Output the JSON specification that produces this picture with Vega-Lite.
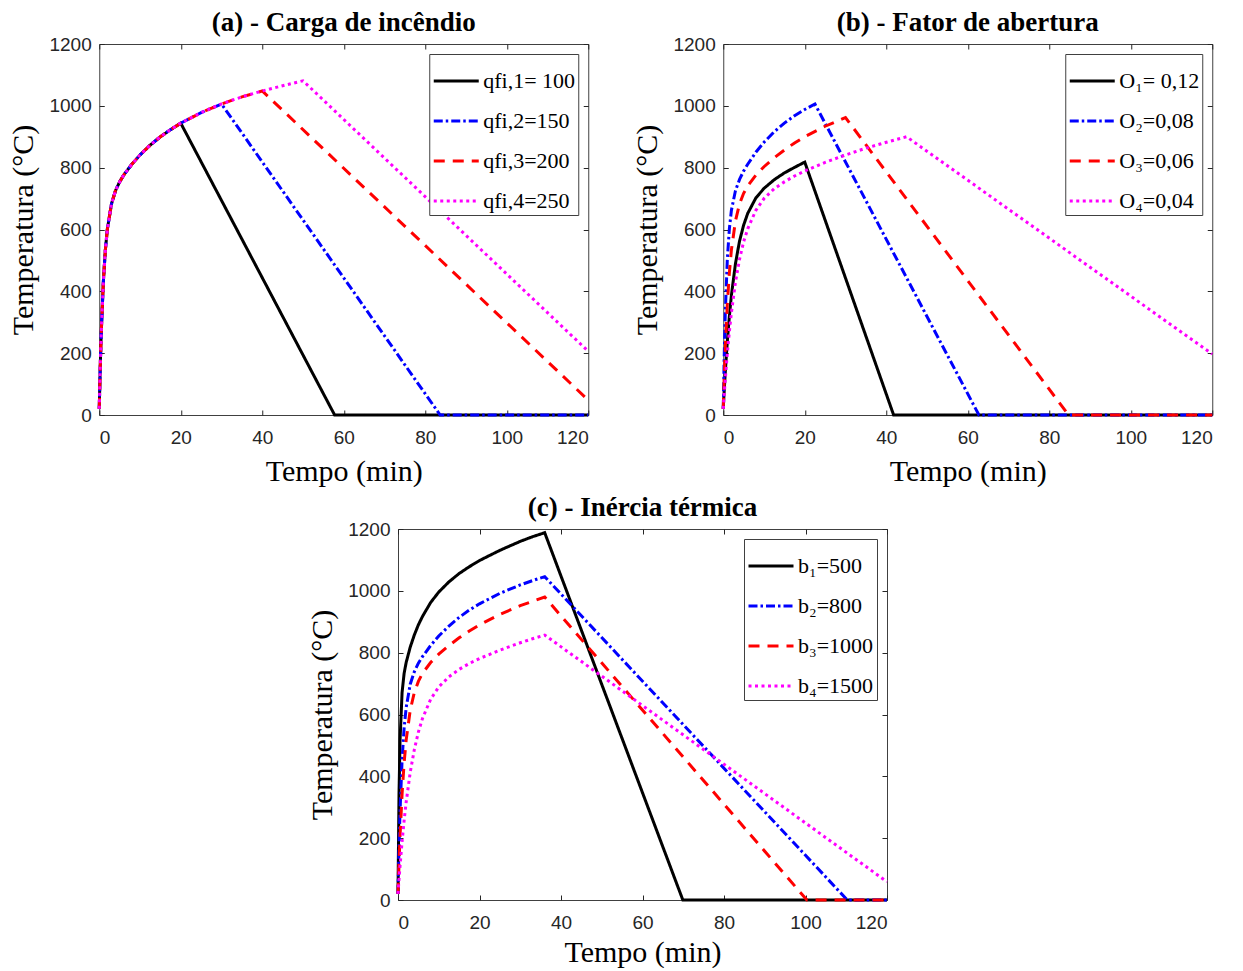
{
"$schema": "https://vega.github.io/schema/vega-lite/v6.json",
"padding": {"left": 8, "top": 8, "right": 5, "bottom": 0},
"datasets": {
"a": [
{"k":1,"t":0,"T":20},{"k":1,"t":0.25,"T":159},{"k":1,"t":0.5,"T":270},{"k":1,"t":1,"T":430},{"k":1,"t":1.5,"T":534},{"k":1,"t":2,"T":602},{"k":1,"t":3,"T":683},{"k":1,"t":4,"T":726},{"k":1,"t":5,"T":754},{"k":1,"t":6,"T":776},{"k":1,"t":8,"T":811},{"k":1,"t":10,"T":841},{"k":1,"t":12.5,"T":873},{"k":1,"t":15,"T":900},{"k":1,"t":17.5,"T":923},{"k":1,"t":20,"T":944},{"k":1,"t":57.76,"T":0},{"k":1,"t":120,"T":0},
{"k":2,"t":0,"T":20},{"k":2,"t":0.25,"T":159},{"k":2,"t":0.5,"T":270},{"k":2,"t":1,"T":430},{"k":2,"t":1.5,"T":534},{"k":2,"t":2,"T":602},{"k":2,"t":3,"T":683},{"k":2,"t":4,"T":726},{"k":2,"t":5,"T":754},{"k":2,"t":6,"T":776},{"k":2,"t":8,"T":811},{"k":2,"t":10,"T":841},{"k":2,"t":12.5,"T":873},{"k":2,"t":15,"T":900},{"k":2,"t":17.5,"T":923},{"k":2,"t":20,"T":944},{"k":2,"t":25,"T":978},{"k":2,"t":30,"T":1006},{"k":2,"t":83.65,"T":0},{"k":2,"t":120,"T":0},
{"k":3,"t":0,"T":20},{"k":3,"t":0.25,"T":159},{"k":3,"t":0.5,"T":270},{"k":3,"t":1,"T":430},{"k":3,"t":1.5,"T":534},{"k":3,"t":2,"T":602},{"k":3,"t":3,"T":683},{"k":3,"t":4,"T":726},{"k":3,"t":5,"T":754},{"k":3,"t":6,"T":776},{"k":3,"t":8,"T":811},{"k":3,"t":10,"T":841},{"k":3,"t":12.5,"T":873},{"k":3,"t":15,"T":900},{"k":3,"t":17.5,"T":923},{"k":3,"t":20,"T":944},{"k":3,"t":25,"T":978},{"k":3,"t":30,"T":1006},{"k":3,"t":35,"T":1029},{"k":3,"t":40,"T":1048},{"k":3,"t":120,"T":48},
{"k":4,"t":0,"T":20},{"k":4,"t":0.25,"T":159},{"k":4,"t":0.5,"T":270},{"k":4,"t":1,"T":430},{"k":4,"t":1.5,"T":534},{"k":4,"t":2,"T":602},{"k":4,"t":3,"T":683},{"k":4,"t":4,"T":726},{"k":4,"t":5,"T":754},{"k":4,"t":6,"T":776},{"k":4,"t":8,"T":811},{"k":4,"t":10,"T":841},{"k":4,"t":12.5,"T":873},{"k":4,"t":15,"T":900},{"k":4,"t":17.5,"T":923},{"k":4,"t":20,"T":944},{"k":4,"t":25,"T":978},{"k":4,"t":30,"T":1006},{"k":4,"t":35,"T":1029},{"k":4,"t":40,"T":1048},{"k":4,"t":45,"T":1065},{"k":4,"t":50,"T":1081},{"k":4,"t":120,"T":206}
],
"b": [
{"k":1,"t":0,"T":20},{"k":1,"t":0.25,"T":82},{"k":1,"t":0.5,"T":139},{"k":1,"t":1,"T":238},{"k":1,"t":1.5,"T":319},{"k":1,"t":2,"T":387},{"k":1,"t":3,"T":490},{"k":1,"t":4,"T":563},{"k":1,"t":5,"T":614},{"k":1,"t":6,"T":652},{"k":1,"t":8,"T":702},{"k":1,"t":10,"T":733},{"k":1,"t":12.5,"T":761},{"k":1,"t":15,"T":783},{"k":1,"t":17.5,"T":801},{"k":1,"t":20,"T":818},{"k":1,"t":41.81,"T":0},{"k":1,"t":120,"T":0},
{"k":2,"t":0,"T":20},{"k":2,"t":0.25,"T":199},{"k":2,"t":0.5,"T":331},{"k":2,"t":1,"T":504},{"k":2,"t":1.5,"T":602},{"k":2,"t":2,"T":662},{"k":2,"t":3,"T":726},{"k":2,"t":4,"T":762},{"k":2,"t":5,"T":789},{"k":2,"t":6,"T":811},{"k":2,"t":8,"T":850},{"k":2,"t":10,"T":882},{"k":2,"t":12.5,"T":916},{"k":2,"t":15,"T":944},{"k":2,"t":17.5,"T":968},{"k":2,"t":20,"T":988},{"k":2,"t":22.5,"T":1006},{"k":2,"t":62.74,"T":0},{"k":2,"t":120,"T":0},
{"k":3,"t":0,"T":20},{"k":3,"t":0.25,"T":127},{"k":3,"t":0.5,"T":217},{"k":3,"t":1,"T":359},{"k":3,"t":1.5,"T":460},{"k":3,"t":2,"T":534},{"k":3,"t":3,"T":628},{"k":3,"t":4,"T":683},{"k":3,"t":5,"T":717},{"k":3,"t":6,"T":741},{"k":3,"t":8,"T":776},{"k":3,"t":10,"T":803},{"k":3,"t":12.5,"T":832},{"k":3,"t":15,"T":857},{"k":3,"t":17.5,"T":880},{"k":3,"t":20,"T":900},{"k":3,"t":25,"T":934},{"k":3,"t":30,"T":962},{"k":3,"t":84.73,"T":0},{"k":3,"t":120,"T":0},
{"k":4,"t":0,"T":20},{"k":4,"t":0.25,"T":70},{"k":4,"t":0.5,"T":116},{"k":4,"t":1,"T":199},{"k":4,"t":1.5,"T":270},{"k":4,"t":2,"T":331},{"k":4,"t":3,"T":430},{"k":4,"t":4,"T":504},{"k":4,"t":5,"T":560},{"k":4,"t":6,"T":602},{"k":4,"t":8,"T":662},{"k":4,"t":10,"T":700},{"k":4,"t":12.5,"T":732},{"k":4,"t":15,"T":754},{"k":4,"t":17.5,"T":773},{"k":4,"t":20,"T":789},{"k":4,"t":25,"T":817},{"k":4,"t":30,"T":841},{"k":4,"t":35,"T":863},{"k":4,"t":40,"T":882},{"k":4,"t":45,"T":900},{"k":4,"t":120,"T":197}
],
"c": [
{"k":1,"t":0,"T":20},{"k":1,"t":0.25,"T":343},{"k":1,"t":0.5,"T":517},{"k":1,"t":1,"T":671},{"k":1,"t":1.5,"T":733},{"k":1,"t":2,"T":768},{"k":1,"t":3,"T":818},{"k":1,"t":4,"T":857},{"k":1,"t":5,"T":890},{"k":1,"t":6,"T":917},{"k":1,"t":8,"T":962},{"k":1,"t":10,"T":996},{"k":1,"t":12.5,"T":1029},{"k":1,"t":15,"T":1056},{"k":1,"t":17.5,"T":1078},{"k":1,"t":20,"T":1098},{"k":1,"t":25,"T":1131},{"k":1,"t":30,"T":1160},{"k":1,"t":33,"T":1175},{"k":1,"t":36,"T":1188},{"k":1,"t":69.9,"T":0},{"k":1,"t":120,"T":0},
{"k":2,"t":0,"T":20},{"k":2,"t":0.25,"T":171},{"k":2,"t":0.5,"T":288},{"k":2,"t":1,"T":453},{"k":2,"t":1.5,"T":556},{"k":2,"t":2,"T":622},{"k":2,"t":3,"T":698},{"k":2,"t":4,"T":738},{"k":2,"t":5,"T":766},{"k":2,"t":6,"T":787},{"k":2,"t":8,"T":823},{"k":2,"t":10,"T":854},{"k":2,"t":12.5,"T":886},{"k":2,"t":15,"T":914},{"k":2,"t":17.5,"T":938},{"k":2,"t":20,"T":958},{"k":2,"t":25,"T":992},{"k":2,"t":30,"T":1019},{"k":2,"t":33,"T":1033},{"k":2,"t":36,"T":1046},{"k":2,"t":110.26,"T":0},{"k":2,"t":120,"T":0},
{"k":3,"t":0,"T":20},{"k":3,"t":0.25,"T":121},{"k":3,"t":0.5,"T":207},{"k":3,"t":1,"T":343},{"k":3,"t":1.5,"T":443},{"k":3,"t":2,"T":517},{"k":3,"t":3,"T":614},{"k":3,"t":4,"T":671},{"k":3,"t":5,"T":707},{"k":3,"t":6,"T":733},{"k":3,"t":8,"T":768},{"k":3,"t":10,"T":795},{"k":3,"t":12.5,"T":823},{"k":3,"t":15,"T":848},{"k":3,"t":17.5,"T":870},{"k":3,"t":20,"T":890},{"k":3,"t":25,"T":924},{"k":3,"t":30,"T":952},{"k":3,"t":33,"T":966},{"k":3,"t":36,"T":980},{"k":3,"t":100.35,"T":0},{"k":3,"t":120,"T":0},
{"k":4,"t":0,"T":20},{"k":4,"t":0.25,"T":67},{"k":4,"t":0.5,"T":110},{"k":4,"t":1,"T":189},{"k":4,"t":1.5,"T":257},{"k":4,"t":2,"T":316},{"k":4,"t":3,"T":413},{"k":4,"t":4,"T":486},{"k":4,"t":5,"T":543},{"k":4,"t":6,"T":587},{"k":4,"t":8,"T":649},{"k":4,"t":10,"T":689},{"k":4,"t":12.5,"T":722},{"k":4,"t":15,"T":746},{"k":4,"t":17.5,"T":765},{"k":4,"t":20,"T":781},{"k":4,"t":25,"T":808},{"k":4,"t":30,"T":832},{"k":4,"t":33,"T":845},{"k":4,"t":36,"T":857},{"k":4,"t":120,"T":59}
]
},
"vconcat": [
{"hconcat": [
{"data": {"name": "a"}, "title": {"text": "(a) - Carga de incêndio"}, "width": 489, "height": 371,
"layer": [
{"mark": {"type": "line", "strokeWidth": 3},
"encoding": {
"x": {"field": "t", "type": "quantitative", "scale": {"domain": [0, 120], "nice": false}, "axis": {"values": [0,20,40,60,80,100,120], "title": "Tempo (min)"}},
"y": {"field": "T", "type": "quantitative", "scale": {"domain": [0, 1200], "nice": false}, "axis": {"values": [0,200,400,600,800,1000,1200], "title": "Temperatura (°C)"}},
"color": {"field": "k", "type": "nominal", "scale": {"domain": [1,2,3,4], "range": ["#000000","#0000ff","#ff0000","#ff00ff"]}, "legend": {"title": null, "labelExpr": "['qfi,1= 100','qfi,2=150','qfi,3=200','qfi,4=250'][datum.value-1]"}},
"strokeDash": {"field": "k", "type": "nominal", "scale": {"domain": [1,2,3,4], "range": [[1,0],[9,3,2.5,3],[11,8],[3,3.5]]}, "legend": {"title": null, "labelExpr": "['qfi,1= 100','qfi,2=150','qfi,3=200','qfi,4=250'][datum.value-1]"}}
}},
{"mark": {"type": "point", "opacity": 0},
"encoding": {
"x": {"field": "t", "type": "quantitative", "axis": {"orient": "top", "labels": false, "title": null, "values": [0,20,40,60,80,100,120]}},
"y": {"field": "T", "type": "quantitative", "axis": {"orient": "right", "labels": false, "title": null, "values": [0,200,400,600,800,1000,1200]}}
}}
],
"resolve": {"axis": {"x": "independent", "y": "independent"}}
},
{"data": {"name": "b"}, "title": {"text": "(b) - Fator de abertura"}, "width": 489, "height": 371,
"layer": [
{"mark": {"type": "line", "strokeWidth": 3},
"encoding": {
"x": {"field": "t", "type": "quantitative", "scale": {"domain": [0, 120], "nice": false}, "axis": {"values": [0,20,40,60,80,100,120], "title": "Tempo (min)"}},
"y": {"field": "T", "type": "quantitative", "scale": {"domain": [0, 1200], "nice": false}, "axis": {"values": [0,200,400,600,800,1000,1200], "title": "Temperatura (°C)"}},
"color": {"field": "k", "type": "nominal", "scale": {"domain": [1,2,3,4], "range": ["#000000","#0000ff","#ff0000","#ff00ff"]}, "legend": {"title": null, "labelExpr": "['O₁= 0,12','O₂=0,08','O₃=0,06','O₄=0,04'][datum.value-1]"}},
"strokeDash": {"field": "k", "type": "nominal", "scale": {"domain": [1,2,3,4], "range": [[1,0],[9,3,2.5,3],[11,8],[3,3.5]]}, "legend": {"title": null, "labelExpr": "['O₁= 0,12','O₂=0,08','O₃=0,06','O₄=0,04'][datum.value-1]"}}
}},
{"mark": {"type": "point", "opacity": 0},
"encoding": {
"x": {"field": "t", "type": "quantitative", "axis": {"orient": "top", "labels": false, "title": null, "values": [0,20,40,60,80,100,120]}},
"y": {"field": "T", "type": "quantitative", "axis": {"orient": "right", "labels": false, "title": null, "values": [0,200,400,600,800,1000,1200]}}
}}
],
"resolve": {"axis": {"x": "independent", "y": "independent"}}
}
], "spacing": 37,
"resolve": {"scale": {"color": "independent", "strokeDash": "independent"}, "legend": {"color": "independent", "strokeDash": "independent"}}},
{"data": {"name": "c"}, "title": {"text": "(c) - Inércia térmica"}, "width": 489, "height": 371,
"layer": [
{"mark": {"type": "line", "strokeWidth": 3},
"encoding": {
"x": {"field": "t", "type": "quantitative", "scale": {"domain": [0, 120], "nice": false}, "axis": {"values": [0,20,40,60,80,100,120], "title": "Tempo (min)", "titlePadding": 5}},
"y": {"field": "T", "type": "quantitative", "scale": {"domain": [0, 1200], "nice": false}, "axis": {"values": [0,200,400,600,800,1000,1200], "title": "Temperatura (°C)"}},
"color": {"field": "k", "type": "nominal", "scale": {"domain": [1,2,3,4], "range": ["#000000","#0000ff","#ff0000","#ff00ff"]}, "legend": {"title": null, "labelExpr": "['b₁=500','b₂=800','b₃=1000','b₄=1500'][datum.value-1]"}},
"strokeDash": {"field": "k", "type": "nominal", "scale": {"domain": [1,2,3,4], "range": [[1,0],[9,3,2.5,3],[11,8],[3,3.5]]}, "legend": {"title": null, "labelExpr": "['b₁=500','b₂=800','b₃=1000','b₄=1500'][datum.value-1]"}}
}},
{"mark": {"type": "point", "opacity": 0},
"encoding": {
"x": {"field": "t", "type": "quantitative", "axis": {"orient": "top", "labels": false, "title": null, "values": [0,20,40,60,80,100,120]}},
"y": {"field": "T", "type": "quantitative", "axis": {"orient": "right", "labels": false, "title": " ", "titlePadding": 2, "values": [0,200,400,600,800,1000,1200]}}
}}
],
"resolve": {"axis": {"x": "independent", "y": "independent"}}
}
],
"spacing": 6,
"center": true,
"resolve": {"scale": {"color": "independent", "strokeDash": "independent"}, "legend": {"color": "independent", "strokeDash": "independent"}},
"config": {
"font": "Liberation Serif",
"view": {"stroke": "#404040", "strokeWidth": 1},
"axis": {"grid": false, "domain": false, "format": "d", "tickSize": -5, "tickColor": "#262626", "labelFont": "Liberation Sans", "labelFontSize": 19, "labelColor": "#262626", "labelPadding": 13, "titleFont": "Liberation Serif", "titleFontSize": 30, "titleFontWeight": "normal", "titleColor": "#000000", "titlePadding": 10},
"axisX": {"labelPadding": 18, "titlePadding": 9},
"title": {"font": "Liberation Serif", "fontSize": 27, "fontWeight": "bold", "color": "#000000", "offset": -2},
"legend": {"orient": "top-right", "offset": 10, "strokeColor": "#404040", "fillColor": "#ffffff", "padding": 3, "symbolType": "stroke", "symbolSize": 2025, "symbolStrokeWidth": 3, "labelFont": "Liberation Serif", "labelFontSize": 22, "labelColor": "#000000", "rowPadding": 5, "labelOffset": 3, "cornerRadius": 0}
}
}
